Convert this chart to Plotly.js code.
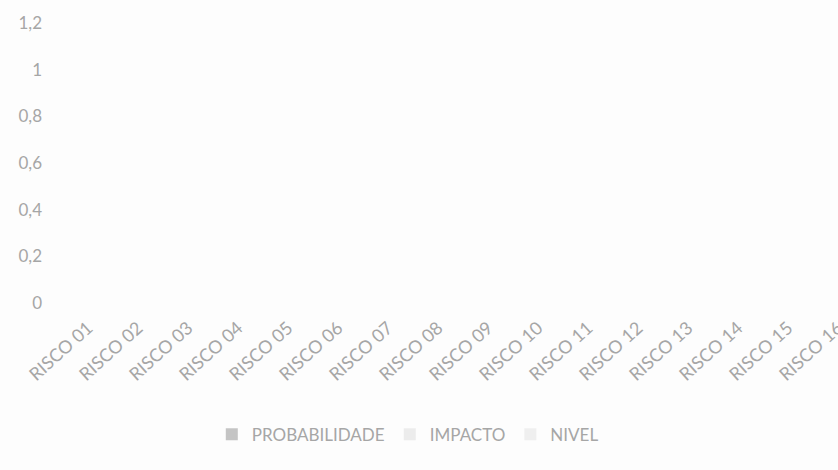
<!DOCTYPE html>
<html>
<head>
<meta charset="utf-8">
<script src="https://cdn.plot.ly/plotly-3.0.1.min.js"></script>
<style>
html, body { margin: 0; padding: 0; overflow: hidden; background: #fdfdfd; width: 838px; height: 470px; }
#chart { width: 880px; height: 470px; }
</style>
</head>
<body>
<div id="chart"></div>
<script>
const categories = ["RISCO 01","RISCO 02","RISCO 03","RISCO 04","RISCO 05","RISCO 06","RISCO 07","RISCO 08",
                    "RISCO 09","RISCO 10","RISCO 11","RISCO 12","RISCO 13","RISCO 14","RISCO 15","RISCO 16"];
const probabilidade = [0,0,0,0,0,0,0,0,0,0,0,0,0,0,0,0];
const impacto       = [0,0,0,0,0,0,0,0,0,0,0,0,0,0,0,0];
const nivel         = [0,0,0,0,0,0,0,0,0,0,0,0,0,0,0,0];
const yTicks = [0, 0.2, 0.4, 0.6, 0.8, 1, 1.2];

const font = {family: "Lato, 'Open Sans', sans-serif", color: "#a6a6a6"};

const traces = [
  {type: "bar", name: "PROBABILIDADE", x: categories, y: probabilidade, marker: {color: "#c4c4c4"}},
  {type: "bar", name: "IMPACTO", x: categories, y: impacto, marker: {color: "#ececec"}},
  {type: "bar", name: "NIVEL", x: categories, y: nivel, marker: {color: "#efefef"}}
];

const layout = {
  width: 880, height: 470,
  margin: {l: 63, r: 17, t: 23, b: 167},
  paper_bgcolor: "#fdfdfd",
  plot_bgcolor: "#fdfdfd",
  separators: ",.",
  barmode: "group",
  showlegend: true,
  font: Object.assign({size: 16}, font),
  xaxis: {
    type: "category",
    tickangle: -42,
    showgrid: false, zeroline: false, showline: false, ticks: "",
    tickfont: Object.assign({size: 18}, font),
    ticklabelstandoff: 10,
    automargin: false
  },
  yaxis: {
    range: [0, 1.2],
    tickvals: yTicks,
    showgrid: false, zeroline: false, showline: false, ticks: "",
    tickfont: Object.assign({size: 17}, font),
    ticklabelstandoff: 20,
    automargin: false
  },
  legend: {
    orientation: "h",
    x: 0.186, xanchor: "left",
    y: -0.47, yanchor: "middle",
    font: Object.assign({size: 17}, font),
    itemwidth: 30,
    bgcolor: "rgba(0,0,0,0)"
  }
};

Plotly.newPlot("chart", traces, layout, {displayModeBar: false, staticPlot: true});
</script>
</body>
</html>
